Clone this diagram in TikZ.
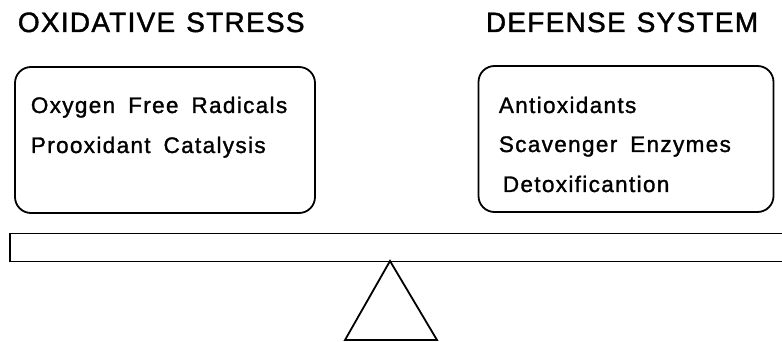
\documentclass[tikz,border=0pt]{standalone}
\usepackage{fontspec}
\setmainfont{Liberation Sans}
\newfontfamily\titlefont[LetterSpace=4.5,FakeBold=1.4]{Liberation Sans}
\newfontfamily\itemfont[LetterSpace=6,FakeBold=1.3]{Liberation Sans}
\newcommand\mytitlefont{\titlefont\fontsize{28}{28}\selectfont\spaceskip=11pt\relax}
\newcommand\myitemfont{\itemfont\fontsize{22.5}{22.5}\selectfont\spaceskip=13pt\relax}
\begin{document}
\begin{tikzpicture}[x=1pt,y=-1pt,
  line width=1.8pt,
  title/.style={anchor=base west,inner sep=0pt,font=\mytitlefont},
  item/.style={anchor=base west,inner sep=0pt,font=\myitemfont},
  panel/.style={draw,rounded corners=16pt,inner sep=0pt}]
\useasboundingbox (0,0) rectangle (782,342);
\node[title] (t1) at (17,32) {OXIDATIVE STRESS};
\node[title] (t2) at (485,32) {DEFENSE SYSTEM};
\node[panel,minimum width=300pt,minimum height=146pt] (lbox) at (165,140) {};
\node[panel,minimum width=295pt,minimum height=146pt] (rbox) at (626,139) {};
\node[item] (l1) at (30,113) {Oxygen Free Radicals};
\node[item] (l2) at (30,153) {Prooxidant Catalysis};
\node[item] (r1) at (498,113) {Antioxidants};
\node[item] (r2) at (498,152) {Scavenger Enzymes};
\node[item] (r3) at (502,192) {Detoxificantion};
\node[draw,inner sep=0pt,minimum width=790pt,minimum height=28pt] (beam) at (405,247.5) {};
\coordinate (apex) at (390,261);
\coordinate (bl) at (345,340);
\coordinate (br) at (437,340);
\draw[line join=miter] (apex) -- (bl) -- (br) -- cycle;
\end{tikzpicture}
\end{document}
